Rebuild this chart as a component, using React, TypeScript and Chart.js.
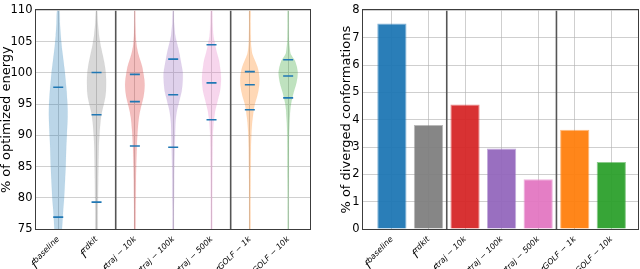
import React, { useEffect, useRef } from 'react';
import { Chart, registerables } from 'chart.js';
Chart.register(...registerables);

const FONT = "'DejaVu Sans', sans-serif";

const categories = ['baseline', 'rdkit', 'traj − 10k', 'traj − 100k', 'traj − 500k', 'GOLF − 1k', 'GOLF − 10k'];
const colors = ['#1f77b4', '#7f7f7f', '#d62728', '#9467bd', '#e377c2', '#ff7f0e', '#2ca02c'];

// Right panel: % of diverged conformations
const divergedPct = [7.52, 3.81, 4.56, 2.95, 1.82, 3.63, 2.45];

// Left panel: violin half-widths (x units) at these energy levels
const energyLevels = [75, 78, 80, 83, 85, 88, 90, 92, 93, 94, 95, 96, 97, 98, 99, 100, 101, 102, 103, 104, 105, 106, 108, 110];
const widthBaseline = [0.10, 0.13, 0.155, 0.18, 0.195, 0.21, 0.225, 0.24, 0.245, 0.245, 0.24, 0.23, 0.22, 0.205, 0.19, 0.175, 0.155, 0.135, 0.115, 0.095, 0.08, 0.065, 0.045, 0.03];
const widthRdkit = [0.035, 0.035, 0.04, 0.045, 0.05, 0.06, 0.075, 0.1, 0.12, 0.15, 0.19, 0.225, 0.245, 0.25, 0.25, 0.24, 0.22, 0.19, 0.155, 0.12, 0.09, 0.065, 0.035, 0.015];
const widthTraj10k = [0.02, 0.022, 0.025, 0.03, 0.035, 0.05, 0.065, 0.09, 0.11, 0.14, 0.18, 0.22, 0.245, 0.255, 0.245, 0.22, 0.19, 0.14, 0.09, 0.055, 0.035, 0.025, 0.015, 0.01];
const widthTraj100k = [0.02, 0.02, 0.025, 0.027, 0.03, 0.04, 0.05, 0.06, 0.075, 0.1, 0.14, 0.18, 0.22, 0.24, 0.25, 0.25, 0.225, 0.195, 0.165, 0.13, 0.09, 0.055, 0.025, 0.012];
const widthTraj500k = [0.02, 0.02, 0.02, 0.022, 0.025, 0.03, 0.035, 0.055, 0.075, 0.1, 0.14, 0.18, 0.22, 0.24, 0.25, 0.24, 0.22, 0.195, 0.15, 0.11, 0.08, 0.05, 0.03, 0.02];
const widthGolf1k = [0.02, 0.02, 0.02, 0.022, 0.025, 0.03, 0.04, 0.06, 0.08, 0.1, 0.13, 0.18, 0.22, 0.245, 0.25, 0.235, 0.195, 0.13, 0.065, 0.04, 0.028, 0.025, 0.02, 0.02];
const widthGolf10k = [0.015, 0.015, 0.015, 0.018, 0.02, 0.022, 0.025, 0.035, 0.045, 0.055, 0.075, 0.11, 0.15, 0.2, 0.235, 0.25, 0.225, 0.17, 0.065, 0.04, 0.025, 0.02, 0.017, 0.015];
const violinWidths = [widthBaseline, widthRdkit, widthTraj10k, widthTraj100k, widthTraj500k, widthGolf1k, widthGolf10k];

// Blue horizontal marks on each violin
const marksBaseline = [97.7, 76.9];
const marksRdkit = [100.05, 93.3, 79.3];
const marksTraj10k = [99.75, 95.4, 88.3];
const marksTraj100k = [102.2, 96.5, 88.1];
const marksTraj500k = [104.5, 98.4, 92.5];
const marksGolf1k = [100.2, 98.1, 94.1];
const marksGolf10k = [102.1, 99.5, 96.0];
const violinMarks = [marksBaseline, marksRdkit, marksTraj10k, marksTraj100k, marksTraj500k, marksGolf1k, marksGolf10k];

const violinSeparators = [2.5, 5.5];
const barSeparators = [1.5, 4.5];

function rgba(hex: string, a: number) {
  const n = parseInt(hex.slice(1), 16);
  return `rgba(${(n >> 16) & 255},${(n >> 8) & 255},${n & 255},${a})`;
}

const framePlugin = {
  id: 'mplFrame',
  afterDraw(chart: any, _args: any, opts: any) {
    const { ctx, chartArea: a } = chart;
    const xs = chart.scales.x;
    ctx.save();
    ctx.strokeStyle = '#3c3c3c';
    ctx.lineWidth = 1;
    const l = Math.round(a.left) - 0.5, t = Math.round(a.top) - 0.5;
    const r = Math.round(a.right) + 0.5, b = Math.round(a.bottom) + 0.5;
    ctx.strokeRect(l, t, r - l, b - t);
    ctx.fillStyle = '#000';
    xs.ticks.forEach((tk: any) => {
      const idx = Math.round(tk.value) - opts.first;
      const sup = categories[idx];
      if (sup == null) return;
      const px = xs.getPixelForValue(tk.value);
      ctx.save();
      ctx.translate(px - 2, a.bottom + 7);
      ctx.rotate(-Math.PI / 4);
      ctx.textAlign = 'right';
      ctx.textBaseline = 'alphabetic';
      ctx.font = `italic 8px ${FONT}`;
      ctx.fillText(sup, 0, 5);
      const w = ctx.measureText(sup).width;
      ctx.font = `italic 12px ${FONT}`;
      ctx.fillText('f', -w - 0.5, 9.5);
      ctx.restore();
    });
    ctx.restore();
  },
};

const gridCommon = { color: '#d0d0d0', lineWidth: 1, drawTicks: false };

function makeViolinConfig(): any {
  const marksData = violinMarks.flatMap((m, i) => m.map((v) => ({ x: i + 1, y: v })));
  const marksDs = {
    type: 'line',
    data: marksData,
    showLine: false,
    pointStyle: 'line',
    pointRadius: 5,
    pointHoverRadius: 5,
    pointBorderWidth: 1.6,
    pointBorderColor: '#1f77b4',
    pointBackgroundColor: '#1f77b4',
    fill: false,
  };
  const sepDs = violinSeparators.map((s) => ({
    type: 'line',
    data: [{ x: s, y: 75 }, { x: s, y: 110 }],
    borderColor: '#555555',
    borderWidth: 1.6,
    pointRadius: 0,
    fill: false,
  }));
  const violinDs = categories.map((_, i) => {
    const w = violinWidths[i];
    const right = energyLevels.map((y, k) => ({ x: i + 1 + w[k], y }));
    const left = energyLevels.map((y, k) => ({ x: i + 1 - w[k], y })).reverse();
    return {
      type: 'line',
      data: [...right, ...left],
      backgroundColor: rgba(colors[i], 0.3),
      borderColor: rgba(colors[i], 0.08),
      borderWidth: 0.5,
      pointRadius: 0,
      tension: 0.2,
      fill: 'shape',
    };
  });
  return {
    type: 'line',
    data: { datasets: [marksDs, ...sepDs, ...violinDs] },
    options: {
      animation: false,
      responsive: false,
      events: [],
      layout: { padding: { left: 0, top: 5, right: 10, bottom: 0 } },
      plugins: { legend: { display: false }, tooltip: { enabled: false }, mplFrame: { first: 1 } },
      scales: {
        x: {
          type: 'linear',
          min: 0.42,
          max: 7.57,
          afterBuildTicks: (s: any) => { s.ticks = categories.map((_, i) => ({ value: i + 1 })); },
          afterFit: (s: any) => { s.height = 40; },
          ticks: { callback: () => '', autoSkip: false },
          grid: gridCommon,
          border: { display: false },
        },
        y: {
          min: 75,
          max: 110,
          afterFit: (s: any) => { s.width = 36; },
          ticks: { stepSize: 5, color: '#000', padding: 3.5, font: { family: FONT, size: 11.5 } },
          grid: gridCommon,
          border: { display: false },
          title: {
            display: true,
            text: '% of optimized energy',
            color: '#000',
            font: { family: FONT, size: 13, lineHeight: 1 },
            padding: { top: 0, bottom: 0 },
          },
        },
      },
    },
    plugins: [framePlugin],
  };
}

function makeBarConfig(): any {
  const sepDs = barSeparators.map((s) => ({
    type: 'line',
    data: [{ x: s, y: 0 }, { x: s, y: 8 }],
    borderColor: '#555555',
    borderWidth: 1.6,
    pointRadius: 0,
    fill: false,
  }));
  const barDs = {
    type: 'bar',
    data: divergedPct.map((v, i) => ({ x: i, y: v })),
    backgroundColor: colors.map((c) => rgba(c, 0.95)),
    borderColor: colors.map((c) => rgba(c, 0.55)),
    borderWidth: 1,
    categoryPercentage: 1,
    barPercentage: 0.8,
  };
  return {
    type: 'bar',
    data: { datasets: [...sepDs, barDs] },
    options: {
      animation: false,
      responsive: false,
      events: [],
      layout: { padding: { left: 20, top: 5, right: 2, bottom: 0 } },
      plugins: { legend: { display: false }, tooltip: { enabled: false }, mplFrame: { first: 0 } },
      scales: {
        x: {
          type: 'linear',
          min: -0.79,
          max: 6.73,
          offset: false,
          z: 1,
          afterBuildTicks: (s: any) => { s.ticks = categories.map((_, i) => ({ value: i })); },
          afterFit: (s: any) => { s.height = 40; },
          ticks: { callback: () => '', autoSkip: false },
          grid: { ...gridCommon, color: 'rgba(175,175,175,0.6)', offset: false },
          border: { display: false },
        },
        y: {
          min: 0,
          max: 8,
          z: 1,
          afterFit: (s: any) => { s.width = 23; },
          ticks: { stepSize: 1, color: '#000', padding: 3.5, font: { family: FONT, size: 11.5 } },
          grid: { ...gridCommon, color: 'rgba(175,175,175,0.6)' },
          border: { display: false },
          title: {
            display: true,
            text: '% of diverged conformations',
            color: '#000',
            font: { family: FONT, size: 13, lineHeight: 1 },
            padding: { top: 0, bottom: 0 },
          },
        },
      },
    },
    plugins: [framePlugin],
  };
}

export default function App() {
  const leftRef = useRef<HTMLCanvasElement>(null);
  const rightRef = useRef<HTMLCanvasElement>(null);
  useEffect(() => {
    Chart.defaults.font.family = FONT;
    const c1 = new Chart(leftRef.current as HTMLCanvasElement, makeViolinConfig());
    const c2 = new Chart(rightRef.current as HTMLCanvasElement, makeBarConfig());
    return () => { c1.destroy(); c2.destroy(); };
  }, []);
  return (
    <div style={{ position: 'absolute', left: 0, top: 0, width: 640, height: 269, background: '#fff', overflow: 'hidden' }}>
      <canvas ref={leftRef} width={320} height={269} style={{ position: 'absolute', left: 0, top: 0, width: 320, height: 269 }} />
      <canvas ref={rightRef} width={320} height={269} style={{ position: 'absolute', left: 320, top: 0, width: 320, height: 269 }} />
    </div>
  );
}
